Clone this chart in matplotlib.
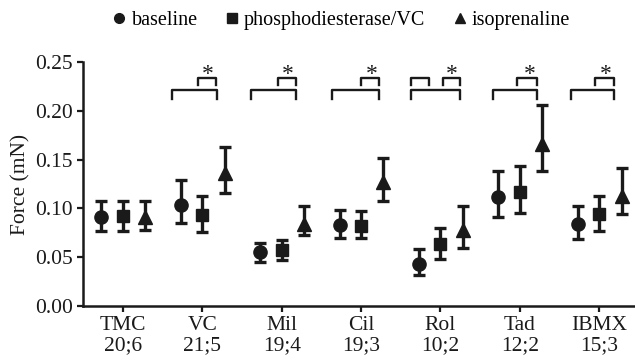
import numpy as np
from matplotlib import pyplot as plt
from matplotlib.lines import Line2D

plt.rcParams['font.family'] = ['Liberation Serif', 'DejaVu Serif']

groups = ["TMC\n20;6", "VC\n21;5", "Mil\n19;4", "Cil\n19;3", "Rol\n10;2", "Tad\n12;2", "IBMX\n15;3"]

baseline = [0.091, 0.104, 0.055, 0.083, 0.043, 0.112, 0.084]
baseline_hi = [0.1075, 0.129, 0.065, 0.0986, 0.058, 0.138, 0.102]
baseline_lo = [0.077, 0.085, 0.0455, 0.070, 0.032, 0.091, 0.0685]

pde = [0.092, 0.0935, 0.0575, 0.0825, 0.064, 0.117, 0.094]
pde_hi = [0.1075, 0.113, 0.068, 0.097, 0.080, 0.144, 0.113]
pde_lo = [0.077, 0.076, 0.0476, 0.070, 0.0486, 0.0955, 0.077]

iso = [0.091, 0.136, 0.084, 0.127, 0.0774, 0.166, 0.113]
iso_hi = [0.108, 0.163, 0.102, 0.152, 0.102, 0.2065, 0.141]
iso_lo = [0.078, 0.116, 0.073, 0.1075, 0.0596, 0.138, 0.0945]

# significance brackets: (group, left, right) offsets from group centre
big_brackets = [(1, -0.38, 0.18), (2, -0.39, 0.18), (3, -0.37, 0.23),
                (4, -0.37, 0.25), (5, -0.34, 0.21), (6, -0.35, 0.18)]
small_brackets = [(1, -0.06, 0.17), (2, -0.05, 0.18), (3, 0.0, 0.23),
                  (4, -0.37, -0.14), (4, 0.03, 0.25), (5, -0.03, 0.21), (6, -0.05, 0.18)]
stars = [(1, 0.07), (2, 0.08), (3, 0.14), (4, 0.14), (5, 0.12), (6, 0.08)]

col = '#1a1a1a'
fig = plt.figure(figsize=(6.35, 3.63), dpi=100)
ax = fig.add_axes([0.131, 0.157, 0.869, 0.672])

x = np.arange(len(groups))
series = [(baseline, baseline_lo, baseline_hi, 'o', -0.27, 9.5),
          (pde, pde_lo, pde_hi, 's', 0.0, 8.5),
          (iso, iso_lo, iso_hi, '^', 0.28, 9.5)]
for vals, lo, hi, mk, off, ms in series:
    vals = np.array(vals)
    err = [vals - np.array(lo), np.array(hi) - vals]
    ax.errorbar(x + off, vals, yerr=err, fmt=mk, color=col, ms=ms, elinewidth=2.4,
                capsize=4.5, capthick=2.4, zorder=3)

for g, l, r in big_brackets:
    ax.plot([g + l, g + l, g + r, g + r], [0.2125, 0.2215, 0.2215, 0.2125], color=col, lw=1.7)
for g, l, r in small_brackets:
    ax.plot([g + l, g + l, g + r, g + r], [0.226, 0.2335, 0.2335, 0.226], color=col, lw=1.7)
for g, o in stars:
    ax.text(g + o, 0.226, '*', ha='center', va='bottom', fontsize=17, color=col)

ax.set_xlim(-0.5, 6.45)
ax.set_ylim(0, 0.25)
ax.set_yticks([0, 0.05, 0.10, 0.15, 0.20, 0.25])
ax.set_yticklabels(["%.2f" % v for v in ax.get_yticks()])
ax.set_xticks(x)
ax.set_xticklabels(groups, linespacing=1.05)
ax.tick_params(labelsize=15.5, colors=col, width=1.6, length=4, direction='out')
for s in ['top', 'right']:
    ax.spines[s].set_visible(False)
for s in ['left', 'bottom']:
    ax.spines[s].set_linewidth(1.8)
    ax.spines[s].set_color(col)
ax.set_ylabel("Force (mN)", fontsize=15.5, color=col, labelpad=3)

handles = [Line2D([], [], marker='o', ls='', color=col, ms=7),
           Line2D([], [], marker='s', ls='', color=col, ms=6.5),
           Line2D([], [], marker='^', ls='', color=col, ms=7.5)]
fig.legend(handles, ['baseline', 'phosphodiesterase/VC', 'isoprenaline'], loc='upper center',
           bbox_to_anchor=(0.535, 1.02), ncol=3, frameon=False, fontsize=14.5,
           handletextpad=0.1, columnspacing=1.2, handlelength=1.0)

plt.savefig("out.png", dpi=100)
